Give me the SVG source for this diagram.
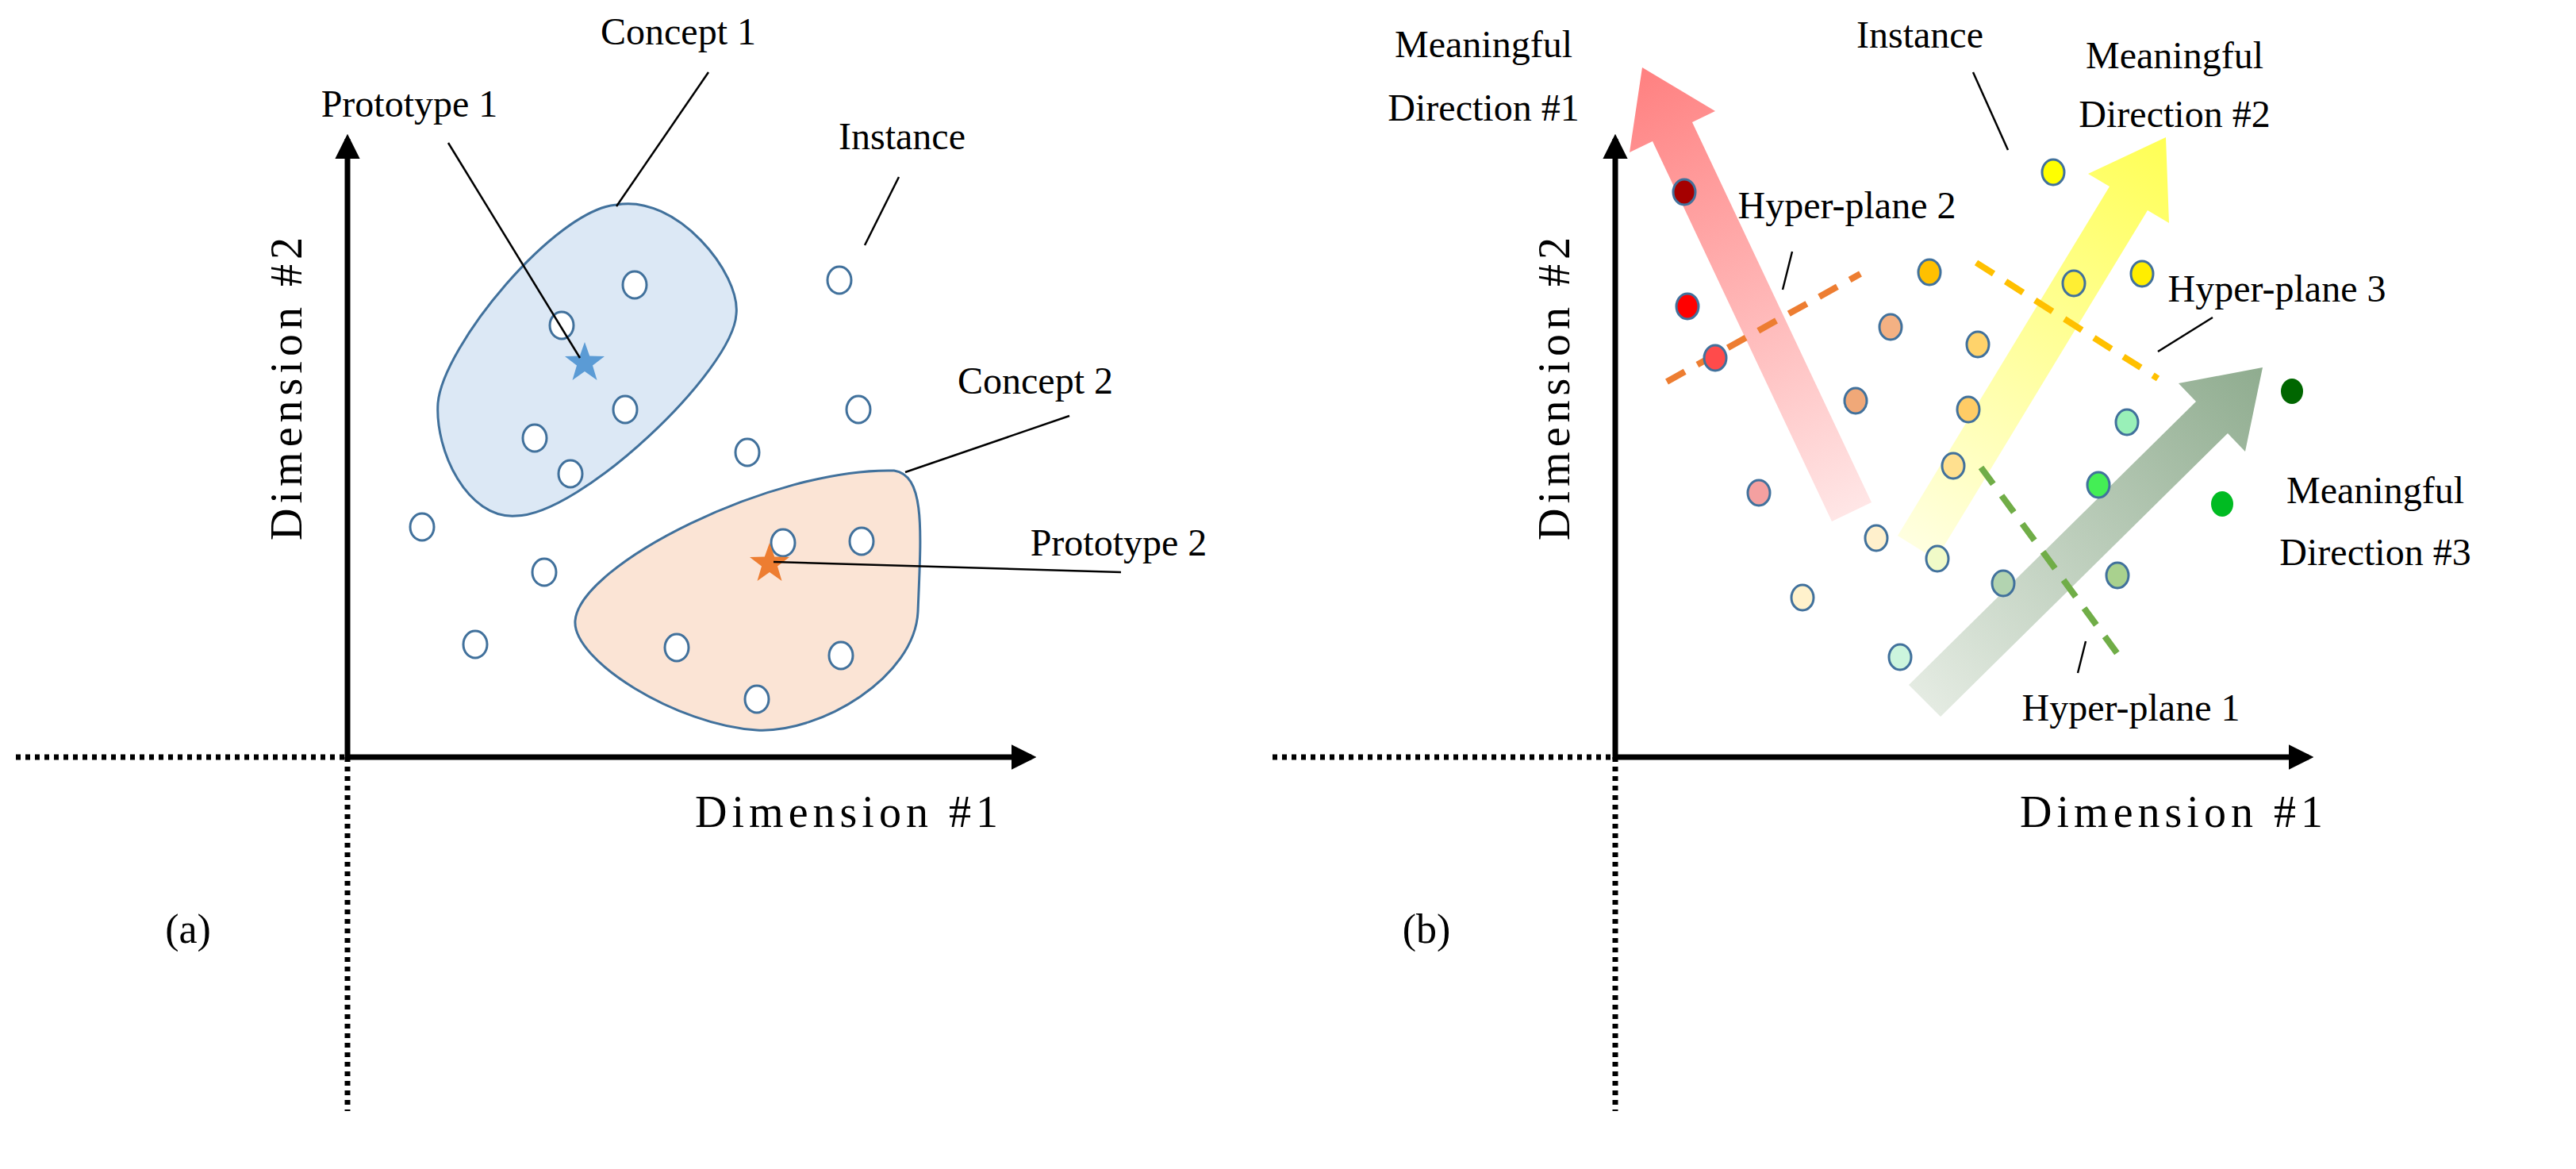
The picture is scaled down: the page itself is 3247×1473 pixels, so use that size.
<svg xmlns="http://www.w3.org/2000/svg" width="3247" height="1473" viewBox="0 0 3247 1473">
<style>
text{font-family:"Liberation Serif","DejaVu Serif",serif;font-size:48px;fill:#000;text-anchor:middle}
.dim{font-size:56px;letter-spacing:6px}
.ax{stroke:#000;stroke-width:7;fill:none}
.dot{stroke:#000;stroke-width:7;stroke-dasharray:6 6;fill:none}
.lead{stroke:#000;stroke-width:2.5;fill:none}
.inst{fill:#fff;stroke:#41719c;stroke-width:3}
.pt{stroke:#41719c;stroke-width:3}
.dash{stroke-width:8;stroke-dasharray:26 18;fill:none}
</style>
<defs>
<marker id="ah" viewBox="0 0 10 10" refX="8" refY="5" markerWidth="4.5" markerHeight="4.5" orient="auto" markerUnits="strokeWidth"><path d="M0,0 L10,5 L0,10 Z" fill="#000"/></marker>
<linearGradient id="gr" gradientUnits="userSpaceOnUse" x1="2334" y1="645" x2="2070" y2="85"><stop offset="0" stop-color="#ffe6e6"/><stop offset="1" stop-color="#ff8080"/></linearGradient>
<linearGradient id="gy" gradientUnits="userSpaceOnUse" x1="2416" y1="690" x2="2730" y2="173"><stop offset="0" stop-color="#ffffe0"/><stop offset="1" stop-color="#ffff55"/></linearGradient>
<linearGradient id="gg" gradientUnits="userSpaceOnUse" x1="2426" y1="883" x2="2852" y2="463"><stop offset="0" stop-color="#e4ebe2"/><stop offset="1" stop-color="#8fac8f"/></linearGradient>
<polygon id="star" points="0,-26 6.2,-8.5 25,-8 10,3.5 15.5,22 0,11 -15.5,22 -10,3.5 -25,-8 -6.2,-8.5"/>
</defs>

<g id="panel-a">
<g id="concept1"><path d="M777,258 C853,244 934,345 928,396 C924,467 731,650 650,650 C589,654 548,568 552,508 C558,436 700,264 777,258 Z" fill="#dce8f5" stroke="#41719c" stroke-width="3"/></g>
<g id="concept2"><path d="M1127,593 C1167,599 1161,670 1157,771 C1153,853 1035,924 954,920 C853,914 721,832 725,782 C731,711 974,589 1127,593 Z" fill="#fbe4d5" stroke="#41719c" stroke-width="3"/></g>
<g id="instances-a">
<ellipse class="inst" cx="800" cy="359" rx="15" ry="17"/><ellipse class="inst" cx="708" cy="410" rx="15" ry="17"/><ellipse class="inst" cx="788" cy="516" rx="15" ry="17"/><ellipse class="inst" cx="674" cy="552" rx="15" ry="17"/><ellipse class="inst" cx="719" cy="597" rx="15" ry="17"/>
<ellipse class="inst" cx="1058" cy="353" rx="15" ry="17"/><ellipse class="inst" cx="1082" cy="516" rx="15" ry="17"/><ellipse class="inst" cx="942" cy="570" rx="15" ry="17"/><ellipse class="inst" cx="532" cy="664" rx="15" ry="17"/><ellipse class="inst" cx="686" cy="721" rx="15" ry="17"/><ellipse class="inst" cx="599" cy="812" rx="15" ry="17"/>
<ellipse class="inst" cx="987" cy="684" rx="15" ry="17"/><ellipse class="inst" cx="1086" cy="682" rx="15" ry="17"/><ellipse class="inst" cx="853" cy="816" rx="15" ry="17"/><ellipse class="inst" cx="1060" cy="826" rx="15" ry="17"/><ellipse class="inst" cx="954" cy="881" rx="15" ry="17"/>
</g>
<g id="prototype1"><use href="#star" x="737" y="457" fill="#5b9bd5"/></g>
<g id="prototype2"><use href="#star" x="970" y="710" fill="#ed7d31"/></g>
<g id="connectors-a">
<line class="lead" x1="893" y1="91" x2="777" y2="260"/>
<line class="lead" x1="565" y1="180" x2="731" y2="451"/>
<line class="lead" x1="1133" y1="223" x2="1090" y2="309"/>
<line class="lead" x1="1348" y1="524" x2="1141" y2="595"/>
<line class="lead" x1="975" y1="708" x2="1413" y2="721"/>
</g>
<g id="axes-a">
<line class="dot" x1="20" y1="954" x2="438" y2="954"/>
<line class="dot" x1="438" y1="954" x2="438" y2="1400"/>
<line class="ax" x1="438" y1="957" x2="438" y2="175" marker-end="url(#ah)"/>
<line class="ax" x1="435" y1="954" x2="1300" y2="954" marker-end="url(#ah)"/>
</g>
<g id="labels-a">
<text x="855" y="56">Concept 1</text>
<text x="516" y="147">Prototype 1</text>
<text x="1137" y="188">Instance</text>
<text x="1305" y="496">Concept 2</text>
<text x="1410" y="700">Prototype 2</text>
<text class="dim" x="1070" y="1042">Dimension  #1</text>
<text class="dim" transform="translate(380,487) rotate(-90)">Dimension  #2</text>
<text x="237" y="1188" style="font-size:52px">(a)</text>
</g>
</g>

<g id="panel-b">
<g id="axes-b">
<line class="dot" x1="1604" y1="954" x2="2036" y2="954"/>
<line class="dot" x1="2036" y1="954" x2="2036" y2="1400"/>
<line class="ax" x1="2036" y1="957" x2="2036" y2="175" marker-end="url(#ah)"/>
<line class="ax" x1="2033" y1="954" x2="2910" y2="954" marker-end="url(#ah)"/>
</g>
<g id="direction1"><polygon points="2359,633 2133,154 2162,140 2070,85 2054,192 2083,178 2309,657" fill="url(#gr)"/></g>
<g id="direction2"><polygon points="2440,705 2707,265 2734,281 2730,173 2632,219 2659,235 2392,675" fill="url(#gy)"/></g>
<g id="direction3"><polygon points="2446,903 2808,546 2830,569 2852,463 2746,483 2768,506 2406,863" fill="url(#gg)"/></g>
<g id="hyperplanes">
<line class="dash" x1="2101" y1="481" x2="2345" y2="345" stroke="#ed7d31"/>
<line class="dash" x1="2491" y1="331" x2="2720" y2="477" stroke="#ffc000"/>
<line class="dash" x1="2497" y1="589" x2="2675" y2="832" stroke="#70ad47"/>
</g>
<g id="instances-b">
<ellipse class="pt" cx="2123" cy="242" rx="14" ry="16" fill="#a50000"/>
<ellipse class="pt" cx="2127" cy="386" rx="14" ry="16" fill="#ff0000"/>
<ellipse class="pt" cx="2162" cy="451" rx="14" ry="16" fill="#ff4b4b"/>
<ellipse class="pt" cx="2588" cy="217" rx="14" ry="16" fill="#ffff00"/>
<ellipse class="pt" cx="2432" cy="343" rx="14" ry="16" fill="#ffc000"/>
<ellipse class="pt" cx="2614" cy="357" rx="14" ry="16" fill="#ffee33"/>
<ellipse class="pt" cx="2700" cy="345" rx="14" ry="16" fill="#ffee00"/>
<ellipse class="pt" cx="2383" cy="412" rx="14" ry="16" fill="#f4b183"/>
<ellipse class="pt" cx="2493" cy="434" rx="14" ry="16" fill="#ffd36b"/>
<ellipse class="pt" cx="2339" cy="505" rx="14" ry="16" fill="#f0a878"/>
<ellipse class="pt" cx="2481" cy="516" rx="14" ry="16" fill="#ffcc66"/>
<ellipse class="pt" cx="2462" cy="587" rx="14" ry="16" fill="#ffe08f"/>
<ellipse class="pt" cx="2217" cy="621" rx="14" ry="16" fill="#f4a0a0"/>
<ellipse class="pt" cx="2365" cy="678" rx="14" ry="16" fill="#fff0cc"/>
<ellipse class="pt" cx="2442" cy="704" rx="14" ry="16" fill="#f0fac8"/>
<ellipse class="pt" cx="2272" cy="753" rx="14" ry="16" fill="#fff2cc"/>
<ellipse class="pt" cx="2525" cy="735" rx="14" ry="16" fill="#b2d3b0"/>
<ellipse class="pt" cx="2669" cy="725" rx="14" ry="16" fill="#a9d18e"/>
<ellipse class="pt" cx="2395" cy="828" rx="14" ry="16" fill="#ccf5dd"/>
<ellipse class="pt" cx="2681" cy="532" rx="14" ry="16" fill="#99f0b8"/>
<ellipse class="pt" cx="2645" cy="611" rx="14" ry="16" fill="#44ee55"/>
<ellipse cx="2889" cy="493" rx="14" ry="16" fill="#006600"/>
<ellipse cx="2801" cy="635" rx="14" ry="16" fill="#00bb22"/>
</g>
<g id="connectors-b">
<line class="lead" x1="2487" y1="91" x2="2531" y2="189"/>
<line class="lead" x1="2259" y1="317" x2="2247" y2="365"/>
<line class="lead" x1="2789" y1="400" x2="2720" y2="443"/>
<line class="lead" x1="2629" y1="808" x2="2619" y2="848"/>
</g>
<g id="labels-b">
<text x="1870" y="72">Meaningful</text>
<text x="1870" y="152">Direction #1</text>
<text x="2420" y="60">Instance</text>
<text x="2741" y="86">Meaningful</text>
<text x="2741" y="160">Direction #2</text>
<text x="2328" y="275">Hyper-plane 2</text>
<text x="2870" y="380">Hyper-plane 3</text>
<text x="2994" y="634">Meaningful</text>
<text x="2994" y="712">Direction #3</text>
<text x="2686" y="908">Hyper-plane 1</text>
<text class="dim" x="2740" y="1042">Dimension  #1</text>
<text class="dim" transform="translate(1978,487) rotate(-90)">Dimension  #2</text>
<text x="1798" y="1188" style="font-size:52px">(b)</text>
</g>
</g>
</svg>
